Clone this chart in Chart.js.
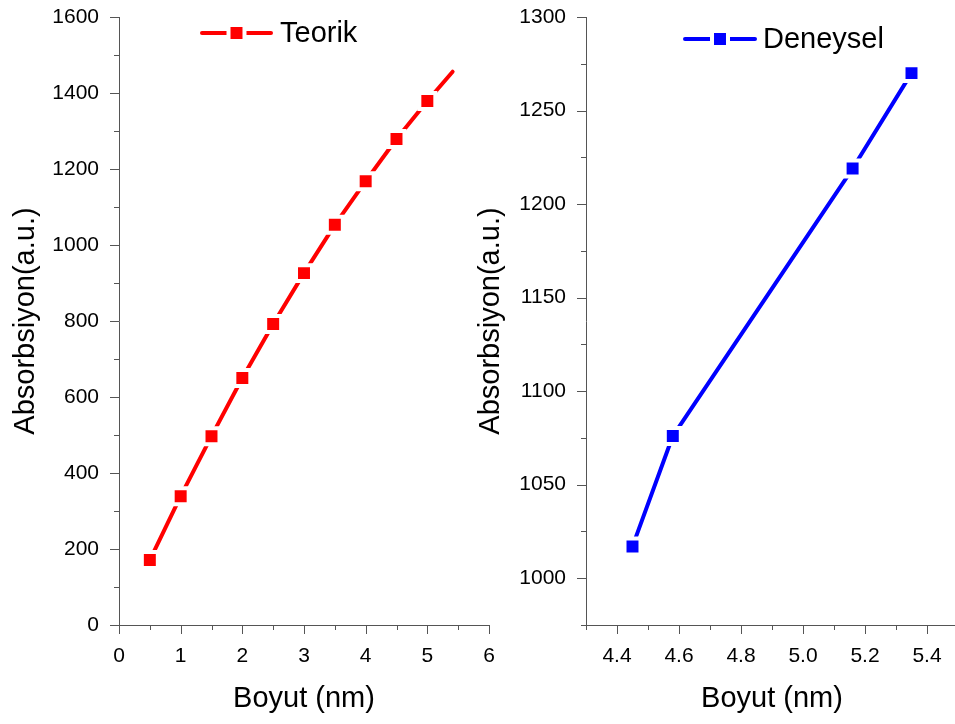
<!DOCTYPE html>
<html><head><meta charset="utf-8">
<script src="https://cdn.jsdelivr.net/npm/chart.js@4/dist/chart.umd.min.js"></script>
<style>
html,body{margin:0;padding:0;overflow:hidden;background:#fff;width:955px;height:724px;}
#c1{position:absolute;left:0;top:0;}
#c2{position:absolute;left:465px;top:0;}
</style></head><body>
<canvas id="c1" width="500" height="724"></canvas>
<canvas id="c2" width="495" height="724"></canvas>
<script>
// ---- data ----
const teorikX = [0.5, 1.0, 1.5, 2.0, 2.5, 3.0, 3.5, 4.0, 4.5, 5.0, 5.41];
const teorikY = [171, 339, 497, 650, 792, 926, 1053, 1168, 1279, 1379, 1456];
const teorikMarked = [true, true, true, true, true, true, true, true, true, true, false];

const deneyselX = [4.45, 4.58, 5.16, 5.35];
const deneyselY = [1017, 1076, 1219, 1270];

const leftXTicks = [0, 1, 2, 3, 4, 5, 6];
const leftXMinor = [0.5, 1.5, 2.5, 3.5, 4.5, 5.5];
const leftYTicks = [0, 200, 400, 600, 800, 1000, 1200, 1400, 1600];
const leftYMinor = [100, 300, 500, 700, 900, 1100, 1300, 1500];

const rightXTicks = [4.4, 4.6, 4.8, 5.0, 5.2, 5.4];
const rightXMinor = [4.3, 4.5, 4.7, 4.9, 5.1, 5.3, 5.5];
const rightYTicks = [1000, 1050, 1100, 1150, 1200, 1250, 1300];
const rightYMinor = [975, 1025, 1075, 1125, 1175, 1225, 1275];

const xTitle = 'Boyut (nm)';
const yTitle = 'Absorbsiyon(a.u.)';

// ---- styles ----
const FONT = '"Liberation Sans", Arial, sans-serif';
const AXIS_COLOR = '#555555';
const MARKER_R = 11.3;
const MARKER_BORDER = 4;

const tickMarks = {
  id: 'tickMarks',
  afterDraw(chart, args, o) {
    const ctx = chart.ctx;
    const {left, bottom} = chart.chartArea;
    const xs = chart.scales.x, ys = chart.scales.y;
    ctx.save();
    ctx.strokeStyle = AXIS_COLOR;
    ctx.lineWidth = 1;
    const draw = (vals, len, horiz) => vals.forEach(v => {
      ctx.beginPath();
      if (horiz) {
        const p = Math.round(xs.getPixelForValue(v)) + 0.5;
        ctx.moveTo(p, bottom); ctx.lineTo(p, bottom + len);
      } else {
        const p = Math.round(ys.getPixelForValue(v)) + 0.5;
        ctx.moveTo(left, p); ctx.lineTo(left - len, p);
      }
      ctx.stroke();
    });
    draw(o.xMajor, 9, true); draw(o.xMinor, 5, true);
    draw(o.yMajor, 9, false); draw(o.yMinor, 5, false);
    ctx.restore();
  }
};

const lineLegend = {
  id: 'lineLegend',
  afterDraw(chart, args, o) {
    const ds = chart.data.datasets[0];
    const ctx = chart.ctx;
    ctx.save();
    ctx.strokeStyle = ds.borderColor;
    ctx.lineWidth = ds.borderWidth;
    ctx.lineCap = 'round';
    ctx.beginPath(); ctx.moveTo(o.x1, o.y); ctx.lineTo(o.x2, o.y); ctx.stroke();
    ctx.fillStyle = ds.borderColor;
    ctx.strokeStyle = '#ffffff';
    ctx.lineWidth = MARKER_BORDER;
    Chart.helpers.drawPoint(ctx, {pointStyle: 'rect', radius: MARKER_R, borderWidth: MARKER_BORDER, rotation: 0}, (o.x1 + o.x2) / 2, o.y);
    ctx.fillStyle = '#000';
    ctx.font = '29px ' + FONT;
    ctx.textBaseline = 'middle';
    ctx.textAlign = 'left';
    ctx.fillText(ds.label, o.tx, o.y + 1);
    ctx.restore();
  }
};

function makeChart(id, xs, ys, marked, label, color, cfg) {
  const pts = xs.map((x, i) => ({x: x, y: ys[i]}));
  return new Chart(document.getElementById(id), {
    type: 'line',
    data: {datasets: [{
      label: label,
      data: pts,
      borderColor: color,
      backgroundColor: color,
      borderWidth: 4,
      borderCapStyle: 'round',
      borderJoinStyle: 'round',
      pointStyle: 'rect',
      pointRadius: marked.map(m => m ? MARKER_R : 0),
      pointHoverRadius: marked.map(m => m ? MARKER_R : 0),
      pointBackgroundColor: color,
      pointBorderColor: '#ffffff',
      pointBorderWidth: MARKER_BORDER,
      tension: 0,
      clip: false
    }]},
    options: {
      responsive: false,
      animation: false,
      events: [],
      layout: {autoPadding: false, padding: {top: 17, right: cfg.padRight, left: 0, bottom: 0}},
      plugins: {
        legend: {display: false},
        tooltip: {enabled: false},
        tickMarks: {xMajor: cfg.xTicks, xMinor: cfg.xMinor, yMajor: cfg.yTicks, yMinor: cfg.yMinor},
        lineLegend: cfg.legend
      },
      scales: {
        x: {
          type: 'linear', min: cfg.xMin, max: cfg.xMax,
          grid: {display: false},
          border: {display: true, color: AXIS_COLOR, width: 1},
          afterBuildTicks: s => { s.ticks = cfg.xTicks.map(v => ({value: v})); },
          afterFit: s => { s.height = 99; s.paddingLeft = 0; s.paddingRight = 0; },
          ticks: {
            autoSkip: false, maxRotation: 0, padding: 11, color: '#000',
            font: {family: FONT, size: 21},
            callback: v => v.toFixed(cfg.xDec)
          },
          title: {display: true, text: xTitle, color: '#000', font: {family: FONT, size: 29}, padding: {top: 0, bottom: 8}}
        },
        y: {
          type: 'linear', min: cfg.yMin, max: cfg.yMax,
          grid: {display: false},
          border: {display: true, color: AXIS_COLOR, width: 1},
          afterBuildTicks: s => { s.ticks = cfg.yTicks.map(v => ({value: v})); },
          afterFit: s => { s.width = cfg.yWidth; s.paddingTop = 0; s.paddingBottom = 0; },
          ticks: {
            autoSkip: false, padding: 12, color: '#000',
            font: {family: FONT, size: 21},
            callback: v => String(v)
          },
          title: {display: true, text: yTitle, color: '#000', font: {family: FONT, size: 29}, padding: {top: 9, bottom: 0}}
        }
      }
    },
    plugins: [tickMarks, lineLegend]
  });
}

makeChart('c1', teorikX, teorikY, teorikMarked, 'Teorik', '#ff0000', {
  xMin: 0, xMax: 6, yMin: 0, yMax: 1600, xDec: 0,
  xTicks: leftXTicks, xMinor: leftXMinor, yTicks: leftYTicks, yMinor: leftYMinor,
  yWidth: 119, padRight: 11,
  legend: {x1: 202, x2: 271, y: 33, tx: 280}
});

makeChart('c2', deneyselX, deneyselY, deneyselX.map(() => true), 'Deneysel', '#0000ff', {
  xMin: 4.3, xMax: 5.5, yMin: 975, yMax: 1300, xDec: 1,
  xTicks: rightXTicks, xMinor: rightXMinor, yTicks: rightYTicks, yMinor: rightYMinor,
  yWidth: 121, padRight: 2,
  legend: {x1: 220, x2: 290, y: 39, tx: 298}
});
</script>
</body></html>
